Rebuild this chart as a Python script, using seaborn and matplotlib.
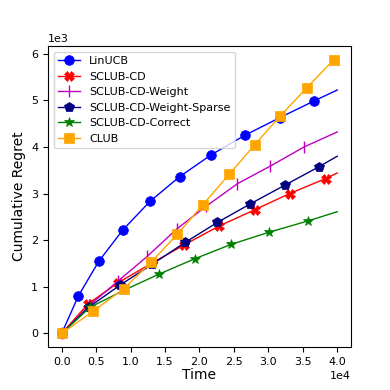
import numpy as np
import pandas as pd
import seaborn as sns
import matplotlib
matplotlib.use('Agg')
import matplotlib.pyplot as plt

# values (time steps, cumulative regret)
linucb_t = [0, 2430, 5400, 8870, 12800, 17100, 21700, 26600, 31700, 36700, 40000]
linucb_r = [0, 810, 1550, 2220, 2830, 3360, 3830, 4250, 4630, 4990, 5220]

sclub_cd_t = [0, 3800, 8200, 13000, 17800, 22800, 28000, 33100, 38300, 40000]
sclub_cd_r = [0, 630, 1090, 1500, 1900, 2300, 2650, 3000, 3320, 3440]

weight_t = [0, 4000, 8150, 12400, 16700, 21000, 25500, 30300, 35200, 40000]
weight_r = [0, 600, 1120, 1650, 2240, 2730, 3210, 3590, 4000, 4320]

sparse_t = [0, 4000, 8500, 13100, 17900, 22600, 27400, 32400, 37300, 40000]
sparse_r = [0, 570, 1040, 1480, 1950, 2380, 2780, 3180, 3570, 3800]

correct_t = [0, 4100, 9100, 14100, 19300, 24600, 30100, 35700, 40000]
correct_r = [0, 560, 930, 1270, 1600, 1910, 2170, 2410, 2610]

club_t = [0, 4500, 9000, 13000, 16800, 20500, 24300, 28000, 31700, 35600, 39500]
club_r = [0, 470, 960, 1530, 2130, 2760, 3410, 4040, 4660, 5270, 5870]

series = [
    ('LinUCB', linucb_t, linucb_r, 'blue', 'o', 7, True),
    ('SCLUB-CD', sclub_cd_t, sclub_cd_r, 'red', 'X', 7, True),
    ('SCLUB-CD-Weight', weight_t, weight_r, 'm', '|', 8, True),
    ('SCLUB-CD-Weight-Sparse', sparse_t, sparse_r, 'navy', 'p', 7, True),
    ('SCLUB-CD-Correct', correct_t, correct_r, 'green', '*', 7, True),
    ('CLUB', club_t, club_r, 'orange', 's', 7, False),
]

fig = plt.figure(figsize=(3.9, 3.9), dpi=100)
ax = fig.add_axes([0.123, 0.110, 0.777, 0.772])

for name, t, r, col, mk, ms, skip_last in series:
    df = pd.DataFrame({'Time': t, 'Regret': r})
    n = len(t)
    every = list(range(n - 1)) if skip_last else list(range(n))
    sns.lineplot(data=df, x='Time', y='Regret', ax=ax, color=col, marker=mk,
                 markersize=ms, markevery=every, linewidth=1, label=name,
                 markeredgewidth=1 if mk == '|' else 0.5,
                 markeredgecolor=col, estimator=None)

ax.ticklabel_format(style='sci', axis='both', scilimits=(0, 0))
ax.tick_params(labelsize=8)
ax.xaxis.get_offset_text().set_fontsize(8)
ax.yaxis.get_offset_text().set_fontsize(8)
ax.set_xlabel('Time', fontsize=10, labelpad=1)
ax.set_ylabel('Cumulative Regret', fontsize=10)
ax.set_xticks([0, 5000, 10000, 15000, 20000, 25000, 30000, 35000, 40000])
ax.legend(loc='upper left', fontsize=8)

fig.savefig('out.png', dpi=100)
